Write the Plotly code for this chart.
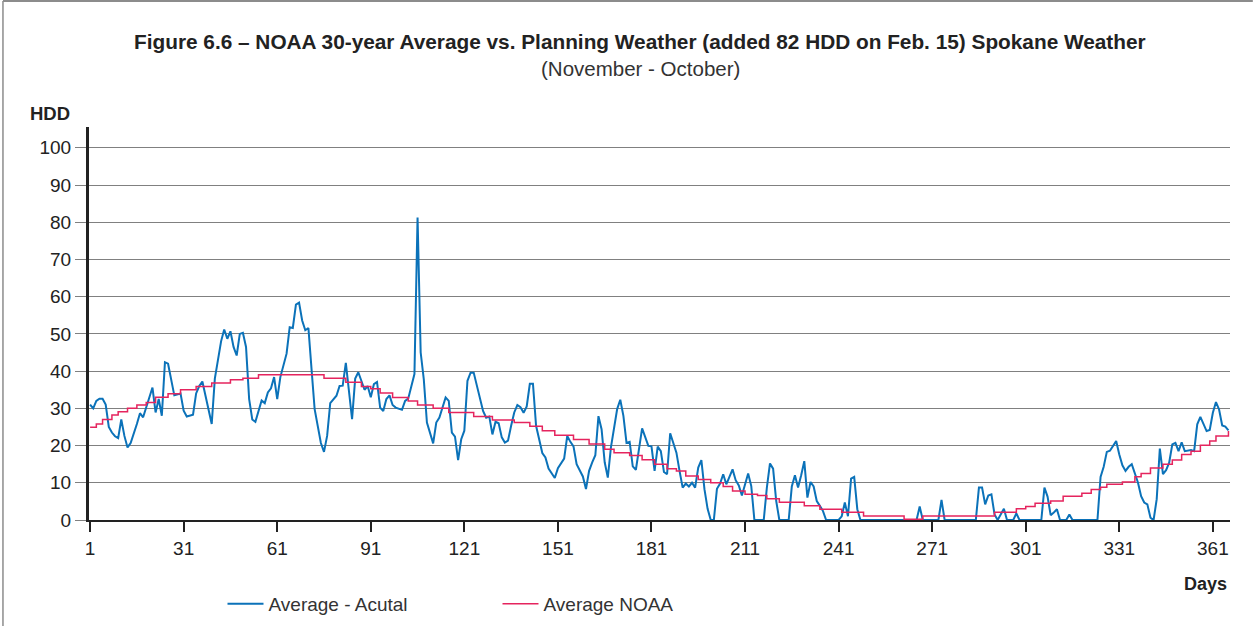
import plotly.graph_objects as go

actual_days = [1, 2, 3, 4, 5, 6, 7, 8, 9, 10, 11, 12, 13, 14, 16, 17, 18, 21, 22, 23, 24, 25, 26, 28, 30,
               31, 32, 34, 35, 36, 37, 40, 41, 43, 44, 45, 46, 47, 48, 49, 50, 51, 52, 53, 54, 55, 56, 57,
               58, 59, 60, 61, 62, 64, 65, 66, 67, 68, 69, 70, 71, 72, 73, 75, 76, 77, 78, 80, 81, 82, 83,
               85, 86, 87, 89, 90, 91, 92, 93, 94, 95, 96, 97, 98, 99, 101, 102, 103, 104, 105, 106, 107,
               108, 109, 111, 112, 113, 115, 116, 117, 118, 119, 120, 121, 122, 123, 124, 126, 127, 128,
               129, 130, 131, 132, 133, 134, 135, 136, 137, 138, 139, 140, 141, 142, 143, 144, 146, 147,
               148, 150, 151, 153, 154, 155, 156, 157, 158, 159, 160, 161, 162, 163, 164, 165, 166, 167,
               168, 170, 171, 172, 173, 174, 175, 176, 178, 179, 180, 181, 182, 183, 184, 185, 186, 187,
               189, 190, 191, 192, 193, 194, 195, 196, 197, 198, 199, 200, 201, 202, 203, 204, 205, 206,
               207, 208, 209, 210, 211, 212, 213, 214, 217, 218, 219, 220, 221, 222, 225, 226, 227, 228,
               229, 230, 231, 232, 233, 234, 235, 236, 237, 241, 242, 243, 244, 245, 246, 247, 248, 266,
               267, 268, 273, 274, 275, 285, 286, 287, 288, 289, 290, 291, 292, 294, 295, 297, 298, 299,
               306, 307, 308, 309, 310, 311, 312, 314, 315, 316, 324, 325, 326, 327, 328, 329, 330, 331,
               332, 333, 334, 335, 337, 338, 339, 340, 341, 342, 343, 344, 345, 346, 347, 348, 349, 350,
               351, 352, 354, 355, 356, 357, 358, 359, 360, 361, 362, 363, 364, 365, 366]
actual_hdd = [31, 30, 32, 32.6, 32.6, 31, 25, 23.5, 22.5, 22, 27, 22.6, 19.5, 20.7, 25.8, 28.7, 27.6, 35.6,
              28.9, 32.5, 28, 42.4, 42, 33.5, 34, 29.4, 27.8, 28.3, 34, 36, 37.2, 25.8, 38, 48, 51.2, 48.7,
              50.7, 46.5, 44.2, 50, 50.3, 46.5, 32.5, 27, 26.4, 29.4, 32.1, 31.4, 34.3, 35.4, 38.4, 32.5,
              38.4, 44.7, 51.8, 51.6, 57.9, 58.4, 53.6, 51, 51.6, 40.6, 29.8, 20.7, 18.3, 22.6, 31.4, 33.4,
              36, 36.1, 42.2, 27.1, 38, 39.7, 35, 36, 33, 36.5, 37.1, 30.2, 29.3, 32.5, 33.5, 30.9, 30.2,
              29.6, 32, 32.6, 35.6, 39.2, 81.3, 45, 37.8, 26.2, 20.6, 26.2, 27.5, 32.9, 32, 23.5, 22.4,
              16.1, 21.7, 24, 37.4, 39.6, 39.6, 32.9, 29.3, 27.5, 27.8, 23, 26.4, 26, 22.2, 20.8, 21.3,
              25.3, 28.9, 30.9, 30.3, 28.8, 30.5, 36.6, 36.6, 25.3, 18, 16.8, 13.8, 11.3, 13.9, 16.5, 22.6,
              21, 19.8, 15, 13.2, 11.7, 8.3, 13.2, 15.5, 17.4, 27.9, 24.4, 15.5, 11.4, 19.5, 29.8, 32.3, 28,
              20.7, 21, 14.4, 13.5, 24.6, 22.5, 19.9, 19.8, 13.2, 19.7, 18.5, 12.9, 12.3, 23.3, 18.1, 13.2,
              8.7, 9.8, 9, 10, 8.7, 14.1, 16.1, 8.2, 3, 0, 0, 8.4, 9.8, 12.3, 9.6, 11.6, 13.6, 10.7, 9.3,
              6.6, 9.6, 12.5, 9.1, 0, 0, 8.7, 15.2, 13.8, 5.1, 0, 0, 9, 12, 8.7, 12, 15.8, 6, 10.2, 9, 5.1,
              3.8, 2.4, 0, 0, 1, 4.7, 1, 11.1, 11.6, 2.9, 0, 0, 3.6, 0, 0, 5.4, 0, 0, 8.7, 8.7, 4.2, 6.6,
              6.9, 1.5, 0, 3, 0, 0, 1.8, 0, 0, 8.7, 6.3, 1.3, 2, 2.9, 0, 0, 1.5, 0, 0, 11.6, 14.3, 18.3,
              18.6, 20.1, 21.2, 17.6, 14.7, 13.2, 14.3, 15, 10, 6.4, 4.7, 4.2, 0.6, 0, 5.6, 19.2, 12.3,
              13.4, 15.4, 20.3, 20.7, 18.5, 20.9, 18.5, 18.8, 18.5, 25.7, 27.7, 25.7, 23.9, 24.2, 28.8,
              31.7, 29.7, 25.4, 25.1, 24.1]

noaa_days = [1, 3, 5, 8, 10, 13, 16, 19, 22, 26, 30, 35, 40, 46, 50, 55, 76, 83, 88, 91, 94, 98, 103, 106,
             111, 116, 124, 130, 137, 142, 146, 150, 156, 161, 166, 169, 174, 178, 182, 186, 189, 192, 196,
             200, 204, 207, 211, 215, 218, 222, 230, 235, 242, 249, 262, 268, 291, 298, 301, 304, 309, 313,
             319, 322, 325, 327, 332, 336, 338, 341, 345, 348, 351, 354, 357, 360, 362, 366]
noaa_hdd = [24.9, 25.8, 27, 28.2, 29.1, 30, 30.9, 31.6, 33, 33.9, 35, 35.9, 36.8, 37.7, 38.1, 39, 38.1, 37,
            35.9, 35.3, 34.1, 32.9, 32, 30.9, 30, 28.9, 27.8, 26.9, 26.2, 25.2, 24, 22.8, 21.6, 20.4, 19,
            18.1, 17.3, 16.2, 15, 13.8, 13.2, 11.8, 10.9, 10, 9, 7.8, 6.9, 6.6, 5.7, 4.8, 3.8, 2.9, 2.1,
            1.1, 0.2, 1.1, 2.1, 3, 3.6, 4.5, 5.1, 6.4, 7.2, 8.2, 8.8, 9.6, 10.2, 11.6, 12.5, 14, 15, 16.1,
            17.6, 18.5, 20.1, 21.2, 22.6, 23.9]

x_ticks = [1, 31, 61, 91, 121, 151, 181, 211, 241, 271, 301, 331, 361]
y_ticks = [0, 10, 20, 30, 40, 50, 60, 70, 80, 90, 100]

font_family = "Liberation Sans, Arial, sans-serif"

fig = go.Figure(
    data=[
        go.Scatter(
            x=actual_days,
            y=actual_hdd,
            mode='lines',
            name='Average - Acutal',
            line=dict(color='#0b72b9', width=2),
        ),
        go.Scatter(
            x=noaa_days,
            y=noaa_hdd,
            mode='lines',
            name='Average NOAA',
            line=dict(color='#e5245e', width=1.5, shape='hv'),
        ),
    ],
    layout=go.Layout(
        width=1253,
        height=626,
        margin=dict(l=89, r=23, t=127, b=106, autoexpand=False),
        plot_bgcolor='white',
        paper_bgcolor='white',
        font=dict(family=font_family, size=19, color='#222222'),
        xaxis=dict(range=[0.65, 366.5], tickvals=x_ticks, showgrid=False, zeroline=False,
                   showline=True, linecolor='#222222', linewidth=2,
                   ticks='outside', ticklen=10, tickwidth=2, tickcolor='#222222'),
        xaxis2=dict(matches='x', overlaying='x', side='bottom', range=[0.65, 366.5], tickvals=x_ticks,
                    showticklabels=False, showgrid=False, zeroline=False, showline=False,
                    ticks='inside', ticklen=10, tickwidth=2, tickcolor='#222222'),
        yaxis=dict(range=[0, 105.6], tickvals=y_ticks, showgrid=True, gridcolor='#808080', gridwidth=1,
                   zeroline=False, showline=True, linecolor='#222222', linewidth=3,
                   ticks='outside', ticklen=11, tickwidth=1, tickcolor='#808080'),
        showlegend=True,
        legend=dict(orientation='h', x=0.117, y=-0.2137, xanchor='left', yanchor='middle',
                    entrywidth=224, entrywidthmode='pixels', itemwidth=36,
                    font=dict(size=19, color='#333333'), bgcolor='rgba(0,0,0,0)'),
        annotations=[
            dict(text='<b>Figure 6.6 – NOAA 30-year Average vs. Planning Weather (added 82 HDD on Feb. 15) '
                      'Spokane Weather</b>',
                 x=0.483, y=1.2163, xref='paper', yref='paper', xanchor='center', yanchor='middle',
                 showarrow=False, font=dict(size=20.8, color='#222222')),
            dict(text='(November - October)', x=0.483, y=1.150, xref='paper', yref='paper',
                 xanchor='center', yanchor='middle', showarrow=False, font=dict(size=20.5, color='#333333')),
            dict(text='<b>HDD</b>', x=-0.0149, y=1.0356, xref='paper', yref='paper', xanchor='right',
                 yanchor='middle', showarrow=False, font=dict(size=18.5, color='#222222')),
            dict(text='<b>Days</b>', x=0.9991, y=-0.163, xref='paper', yref='paper', xanchor='right',
                 yanchor='middle', showarrow=False, font=dict(size=18, color='#222222')),
        ],
        shapes=[
            # frame around the figure (only top and left edges show)
            dict(type='line', xref='paper', yref='paper', x0=-0.0754, x1=1.02, y0=1.3206, y1=1.3206,
                 line=dict(color='#8c8c8c', width=2)),
            dict(type='line', xref='paper', yref='paper', x0=-0.0754, x1=-0.0754, y0=1.3206, y1=-0.27,
                 line=dict(color='#8c8c8c', width=1.5)),
        ],
    )
)

# page has a default body margin; drop it so the figure sits at the window corner
fig.write_html("out.html", config=dict(displayModeBar=False),
               post_script="document.body.style.margin='0';")
